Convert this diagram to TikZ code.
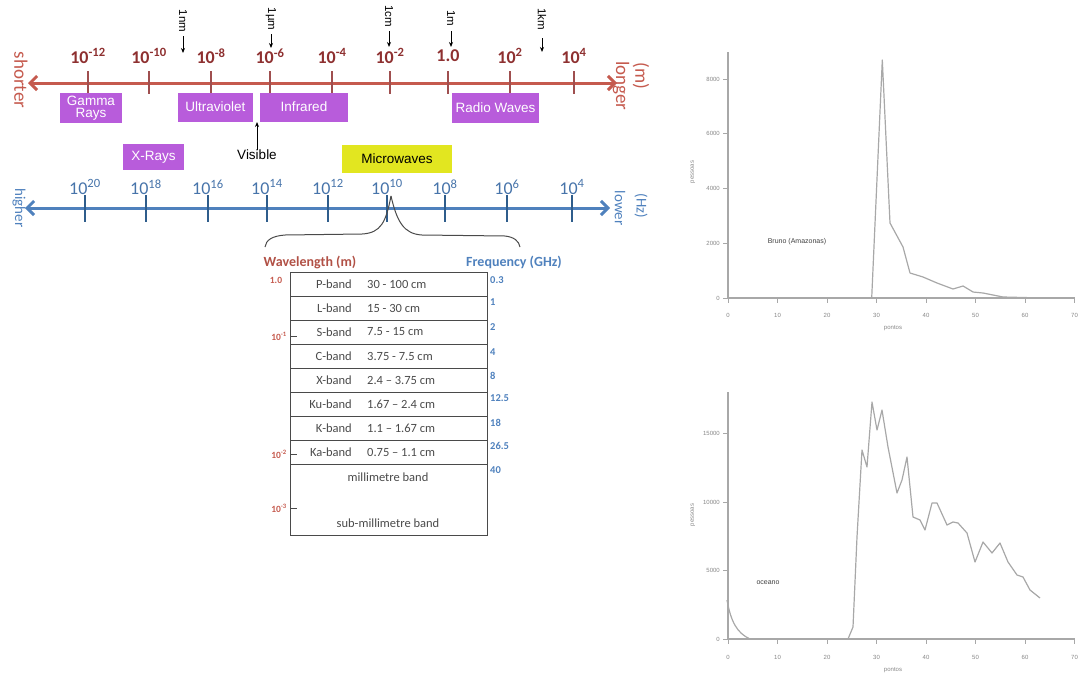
\documentclass[tikz,border=0pt]{standalone}
\usepackage{fontspec}
\setmainfont{Liberation Sans}
\newfontfamily\calfont{Carlito}
\usetikzlibrary{arrows.meta}
\definecolor{wred}{HTML}{C55A4E}
\definecolor{wdark}{HTML}{8E3030}
\definecolor{fblue}{HTML}{4F81BD}
\definecolor{fdark}{HTML}{2F5D8C}
\definecolor{purp}{HTML}{B85CDB}
\definecolor{yel}{HTML}{E2E620}
\definecolor{cgray}{HTML}{A8A8A8}
\definecolor{tgray}{HTML}{4A4A4A}
\begin{document}
\begin{tikzpicture}[x=1pt,y=-1pt,
  waxis/.style={draw=wred,line width=3pt,{Straight Barb[length=7pt,width=14pt]}-{Straight Barb[length=7pt,width=14pt]}},
  faxis/.style={draw=fblue,line width=3pt,{Straight Barb[length=7pt,width=14pt]}-{Straight Barb[length=7pt,width=14pt]}},
  wtick/.style={draw=wdark!85,line width=2.6pt},
  ftick/.style={draw=fdark,line width=2.6pt},
  wlab/.style={text=wdark,font=\calfont\bfseries\fontsize{18}{20}\selectfont,inner sep=0pt},
  flab/.style={text=fblue!90!black,font=\calfont\fontsize{18}{20}\selectfont,inner sep=0pt},
  sidew/.style={text=wred,font=\calfont\fontsize{19}{20}\selectfont,rotate=-90,inner sep=0pt},
  sidef/.style={text=fblue,font=\calfont\fontsize{15}{16}\selectfont,rotate=-90,inner sep=0pt},
  pbox/.style={fill=purp,text=white,font=\fontsize{13.5}{14}\selectfont,inner sep=0pt,align=center},
  ybox/.style={fill=yel,text=black,font=\fontsize{13.5}{14}\selectfont,inner sep=0pt},
  unitlab/.style={rotate=-90,font=\fontsize{11.5}{12}\selectfont,inner sep=0pt},
  smallarr/.style={draw=black,line width=0.9pt,-{Stealth[length=5pt,width=4pt]}},
  brace/.style={draw=tgray,line width=1pt},
  tline/.style={draw=tgray,line width=1pt},
  tband/.style={font=\calfont\fontsize{12.5}{13}\selectfont,text=tgray,inner sep=0pt},
  lftlab/.style={font=\calfont\bfseries\fontsize{9.5}{10}\selectfont,text=wred,inner sep=0pt},
  rgtlab/.style={font=\calfont\bfseries\fontsize{10.5}{11}\selectfont,text=fblue,inner sep=0pt,anchor=west},
  cax/.style={draw=cgray,line width=1.2pt},
  ccurve/.style={draw=cgray,line width=1.2pt,line join=round},
  ctext/.style={font=\fontsize{6}{6}\selectfont,text=cgray!80!black,inner sep=0pt},
]
\useasboundingbox (0,0) rectangle (1080,675);

% ---------- wavelength axis ----------
\coordinate (wl) at (28,83);
\coordinate (wr) at (617,83);
\draw[waxis] (wl) -- (wr);
\foreach \x/\t [count=\i] in {88/10\textsuperscript{-12},149/10\textsuperscript{-10},211/10\textsuperscript{-8},270/10\textsuperscript{-6},332/10\textsuperscript{-4},390/10\textsuperscript{-2},448/1.0,510/10\textsuperscript{2},574/10\textsuperscript{4}}{
  \coordinate (wta\i) at (\x,71);
  \coordinate (wtb\i) at (\x,94);
  \draw[wtick] (wta\i) -- (wtb\i);
  \node[wlab] (wlab\i) at (\x,56) {\t};
}
\node[sidew] (shorter) at (21,80) {shorter};
\node[sidew] (longer) at (621,86) {longer};
\node[sidew] (munit) at (641,76) {(m)};

% top unit annotations
\foreach \x/\t/\c/\a/\b [count=\i] in {183/1nm/21/36/53,271/1\textmu m/19/34/48,389/1cm/16/31/47,451/1m/18/31/47,542/1km/19/38/52}{
  \node[unitlab] (un\i) at (\x,\c) {\t};
  \coordinate (uns\i) at (\x,\a);
  \coordinate (une\i) at (\x,\b);
  \draw[smallarr] (uns\i) -- (une\i);
}

% purple boxes
\node[pbox,minimum width=62pt,minimum height=30pt] (gamma) at (91,108) {Gamma\\[-2pt]Rays};
\node[pbox,minimum width=75pt,minimum height=29pt] (uv) at (215.5,107) {Ultraviolet};
\node[pbox,minimum width=88pt,minimum height=29pt] (ir) at (304,107) {Infrared};
\node[pbox,minimum width=87pt,minimum height=30pt] (radio) at (495.5,108) {Radio Waves};
\node[pbox,minimum width=61pt,minimum height=26pt] (xray) at (153.5,157) {X-Rays};
\node[ybox,minimum width=110pt,minimum height=28pt] (micro) at (397,159) {Microwaves};
\node[font=\fontsize{13.5}{14}\selectfont,inner sep=0pt] (visible) at (257,155) {Visible};
\coordinate (vistip) at (257,122);
\draw[smallarr] (visible.north) -- (vistip);

% ---------- frequency axis ----------
\coordinate (fl) at (25,208);
\coordinate (fr) at (610,208);
\draw[faxis] (fl) -- (fr);
\foreach \x/\t [count=\i] in {85/20,146/18,208/16,267/14,328/12,387/10,445/8,507/6,572/4}{
  \coordinate (fta\i) at (\x,195);
  \coordinate (ftb\i) at (\x,222);
  \draw[ftick] (fta\i) -- (ftb\i);
  \node[flab] (flab\i) at (\x,187) {10\textsuperscript{\t}};
}
\node[sidef] (higher) at (19,208) {higher};
\node[sidef] (lower) at (620,208) {lower};
\node[sidef] (hzunit) at (641,206) {(Hz)};

% brace from 10^10
\coordinate (apex) at (391,196);
\coordinate (bl) at (265,247);
\coordinate (br) at (520,247);
\draw[brace] (apex) .. controls (386,222) and (381,233) .. (362,234) -- (285,235) .. controls (272,236) and (266,240) .. (bl);
\draw[brace] (apex) .. controls (397,222) and (404,234) .. (422,235) -- (505,236) .. controls (514,237) and (519,241) .. (br);

% ---------- table ----------
\node[font=\calfont\bfseries\fontsize{14}{15}\selectfont,text=wred!90!black,inner sep=0pt] (wavelen) at (310,262) {Wavelength (m)};
\node[font=\calfont\bfseries\fontsize{14}{15}\selectfont,text=fblue,inner sep=0pt] (freq) at (514,262) {Frequency (GHz)};
\coordinate (tbl) at (290,272);
\coordinate (tbr) at (487,535);
\draw[tline] (tbl) rectangle (tbr);
\foreach \y [count=\i] in {296,320,344,368,392,416,440,464}{
  \coordinate (rl\i) at (290,\y);
  \coordinate (rr\i) at (487,\y);
  \draw[tline] (rl\i) -- (rr\i);
}
\foreach \n/\r [count=\i] in {P-band/30 - 100 cm,L-band/15 - 30 cm,S-band/7.5 - 15 cm,C-band/3.75 - 7.5 cm,X-band/2.4 – 3.75 cm,Ku-band/1.67 – 2.4 cm,K-band/1.1 – 1.67 cm,Ka-band/0.75 – 1.1 cm}{
  \node[tband,anchor=east] (bn\i) at (352,260+24*\i) {\n};
  \node[tband,anchor=west] (br\i) at (367,260+24*\i) {\r};
}
\node[tband] (mm) at (388,477) {millimetre band};
\node[tband] (submm) at (388,523) {sub-millimetre band};

% left labels
\node[lftlab] (l10) at (276,280) {1.0};
\foreach \y/\e [count=\i] in {336/-1,454/-2,508/-3}{
  \node[lftlab,anchor=east] (le\i) at (287,\y) {10\textsuperscript{\e}};
  \coordinate (lta\i) at (290,\y);
  \coordinate (ltb\i) at (297,\y);
  \draw[draw=tgray,line width=1pt] (lta\i) -- (ltb\i);
}
% right labels
\foreach \y/\t [count=\i] in {280/0.3,302/1,327/2,352/4,376/8,398/12.5,423/18,446/26.5,470/40}{
  \node[rgtlab] (rg\i) at (490,\y) {\t};
}

% ---------- top chart ----------
\coordinate (c1o) at (728,298);
\coordinate (c1t) at (728,52);
\coordinate (c1r) at (1075,298);
\draw[cax] (c1t) -- (c1o) -- (c1r);
\foreach \v/\t [count=\i] in {0/0,10/10,20/20,30/30,40/40,50/50,60/60,70/70}{
  \coordinate (c1xa\i) at (728+4.95*\v,298);
  \coordinate (c1xb\i) at (728+4.95*\v,303);
  \draw[cax,line width=0.8pt] (c1xa\i) -- (c1xb\i);
  \node[ctext] (c1xl\i) at (728+4.95*\v,315) {\t};
}
\foreach \y/\t [count=\i] in {79/8000,133/6000,188/4000,243/2000,298/0}{
  \coordinate (c1ya\i) at (723,\y);
  \coordinate (c1yb\i) at (728,\y);
  \draw[cax,line width=0.8pt] (c1ya\i) -- (c1yb\i);
  \node[ctext,anchor=east] (c1yl\i) at (720,\y) {\t};
}
\node[ctext,rotate=90] (c1ylab) at (693,172) {pessoas};
\node[ctext] (c1xlab) at (893,328) {pontos};
\node[ctext,font=\fontsize{7}{7}\selectfont,text=black!75] (c1name) at (797,242) {Bruno (Amazonas)};
\draw[ccurve] (c1o) -- (871.7,298) -- (882.3,60) -- (890,223) -- (903,247) -- (910,273) -- (923,277) -- (937,283) -- (953,289) -- (963,286) -- (973,292) -- (983,293) -- (1003,297) -- (1043,298);

% ---------- bottom chart ----------
\coordinate (c2o) at (728,639);
\coordinate (c2t) at (728,392);
\coordinate (c2r) at (1075,639);
\draw[cax] (c2t) -- (c2o) -- (c2r);
\foreach \v/\t [count=\i] in {0/0,10/10,20/20,30/30,40/40,50/50,60/60,70/70}{
  \coordinate (c2xa\i) at (728+4.95*\v,639);
  \coordinate (c2xb\i) at (728+4.95*\v,644);
  \draw[cax,line width=0.8pt] (c2xa\i) -- (c2xb\i);
  \node[ctext] (c2xl\i) at (728+4.95*\v,657) {\t};
}
\foreach \y/\t [count=\i] in {433/15000,502/10000,570/5000,639/0}{
  \coordinate (c2ya\i) at (723,\y);
  \coordinate (c2yb\i) at (728,\y);
  \draw[cax,line width=0.8pt] (c2ya\i) -- (c2yb\i);
  \node[ctext,anchor=east] (c2yl\i) at (720,\y) {\t};
}
\node[ctext,rotate=90] (c2ylab) at (693,515) {pessoas};
\node[ctext] (c2xlab) at (893,670) {pontos};
\node[ctext,font=\fontsize{7}{7}\selectfont,text=black!75] (c2name) at (768,583) {oceano};
\draw[ccurve] (727,600) .. controls (731,622) and (737,633) .. (750,639) -- (848,639) -- (853,627) -- (857,537) -- (862,450) -- (867,467) -- (872,402) -- (877,430) -- (882,410) -- (888,447) -- (897,493) -- (902,480) -- (907,457) -- (913,517) -- (920,520) -- (925,530) -- (932,503) -- (937,503) -- (947,525) -- (953,522) -- (958,523) -- (967,533) -- (975,562) -- (983,542) -- (992,553) -- (1000,543) -- (1008,562) -- (1017,575) -- (1023,577) -- (1030,590) -- (1040,598);
\end{tikzpicture}
\end{document}
